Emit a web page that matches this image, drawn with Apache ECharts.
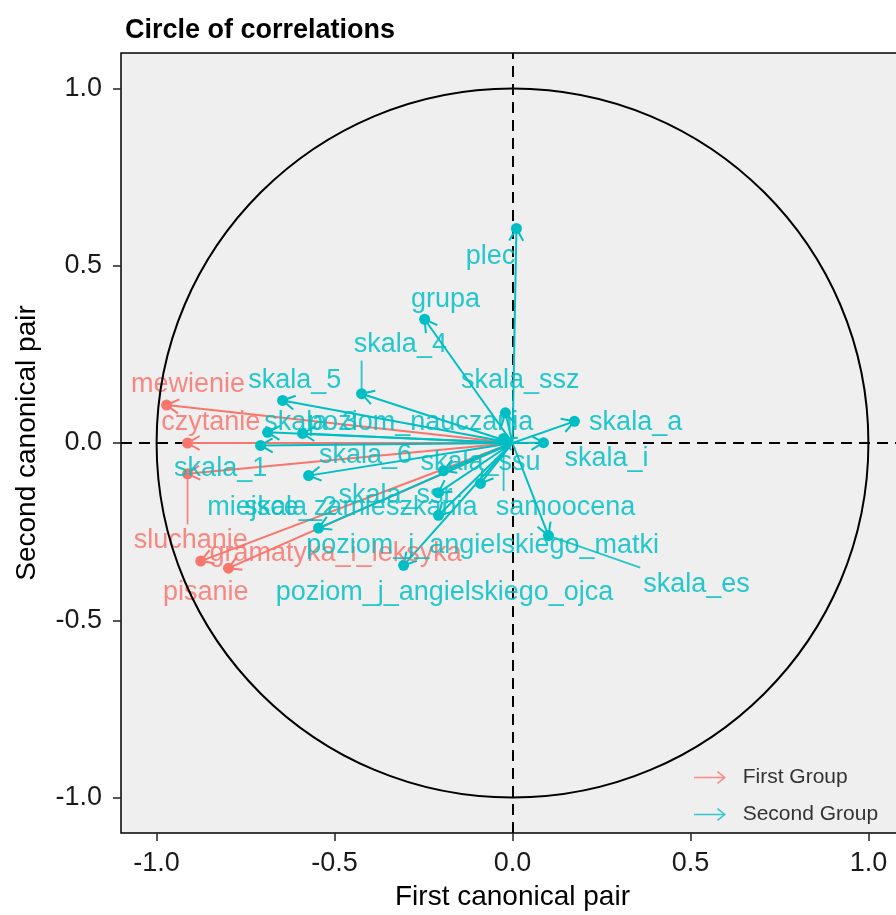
<!DOCTYPE html>
<html><head><meta charset="utf-8">
<script src="https://cdn.jsdelivr.net/npm/echarts@6/dist/echarts.min.js"></script>
<style>html,body{margin:0;padding:0;background:#fff}#c{width:896px;height:915px}</style>
</head><body><div id="c"></div>
<script>
const varNames = ['mewienie','czytanie','sluchanie','pisanie','gramatyka_i_leksyka','plec','grupa','skala_4','skala_5','skala_3','poziom_nauczania','skala_1','skala_6','skala_2','poziom_j_angielskiego_ojca','skala_ssr','skala_ssu','miejsce_zamieszkania','poziom_j_angielskiego_matki','skala_es','skala_a','skala_i','skala_ssz','samoocena'];
const varGroup = ['First Group','First Group','First Group','First Group','First Group','Second Group','Second Group','Second Group','Second Group','Second Group','Second Group','Second Group','Second Group','Second Group','Second Group','Second Group','Second Group','Second Group','Second Group','Second Group','Second Group','Second Group','Second Group','Second Group'];
const corrX = [-0.972,-0.913,-0.913,-0.876,-0.798, 0.011,-0.247,-0.424,-0.646,-0.688,-0.590,-0.708,-0.573,-0.545,-0.306,-0.194,-0.090,-0.208,-0.208,0.101,0.174,0.087,-0.020,-0.025];
const corrY = [0.107,0.000,-0.087,-0.333,-0.353, 0.605,0.349,0.139,0.120,0.030,0.027,-0.007,-0.092,-0.240,-0.345,-0.078,-0.114,-0.140,-0.204,-0.261,0.061,0.001,0.085,0.013];
const labelX = [-0.912,-0.848,-0.904,-0.862,-0.497, -0.062,-0.188,-0.315,-0.612,-0.567,-0.258,-0.820,-0.413,-0.624,-0.191,-0.329,-0.090,-0.478,-0.084,0.517,0.346,0.264,0.022,0.149];
const labelY = [0.166,0.059,-0.276,-0.423,-0.313, 0.527,0.406,0.279,0.175,0.059,0.059,-0.073,-0.035,-0.183,-0.423,-0.148,-0.055,-0.182,-0.289,-0.398,0.059,-0.045,0.175,-0.182];
const xTicks = [-1.0,-0.5,0.0,0.5,1.0];
const yTicks = [-1.0,-0.5,0.0,0.5,1.0];
const groups = ['First Group','Second Group'];
const groupColors = {'First Group':'#F8766D','Second Group':'#00BFC4'};

const FONT = '"Liberation Sans", Arial, Helvetica, sans-serif';
const LABEL_FONT = '27px ' + FONT;
const ctx = document.createElement('canvas').getContext('2d');
ctx.font = LABEL_FONT;

function idxOf(g){ return varNames.map((n,i)=>i).filter(i=>varGroup[i]===g); }

const series = [];
// reference circle + dashed axes
series.push({
  type:'custom', name:'circle', silent:true, z:20, animation:false,
  data:[[0,0]],
  renderItem:(params, api)=>{
    const c = api.coord([api.value(0), api.value(1)]);
    const s = api.size([1,1]);
    return {type:'ellipse', shape:{cx:c[0], cy:c[1], rx:s[0], ry:s[1]},
      style:{fill:null, stroke:'#000', lineWidth:2}};
  },
  markLine:{silent:true, symbol:['none','none'], animation:false, label:{show:false},
    lineStyle:{color:'#000', width:2, type:[11,7]},
    data:[{xAxis:0},{yAxis:0}]}
});

groups.forEach(g=>{
  const color = groupColors[g];
  const ids = idxOf(g);
  series.push({
    type:'custom', name:g, z:5, animation:false,
    itemStyle:{color},
    data: ids.map(i=>[corrX[i], corrY[i]]),
    renderItem:(params, api)=>{
      const o = api.coord([0,0]);
      const p = api.coord([api.value(0), api.value(1)]);
      const ang = Math.atan2(p[1]-o[1], p[0]-o[0]);
      const L = 14, a = Math.PI/6;
      const h1 = [p[0]-L*Math.cos(ang-a), p[1]-L*Math.sin(ang-a)];
      const h2 = [p[0]-L*Math.cos(ang+a), p[1]-L*Math.sin(ang+a)];
      return {type:'group', children:[
        {type:'line', shape:{x1:o[0],y1:o[1],x2:p[0],y2:p[1]}, style:{stroke:color, lineWidth:2}},
        {type:'polyline', shape:{points:[h1,p,h2]}, style:{stroke:color, lineWidth:2, fill:null}}
      ]};
    }
  });
  series.push({
    type:'scatter', name:g+' points', z:6, animation:false,
    symbolSize:11, itemStyle:{color, opacity:1},
    data: ids.map(i=>[corrX[i], corrY[i]])
  });
});

groups.forEach(g=>{
  const color = groupColors[g];
  const ids = idxOf(g);
  series.push({
    type:'custom', name:g+' labels', z:10, animation:false, silent:true,
    data: ids.map(i=>[labelX[i], labelY[i], corrX[i], corrY[i], i]),
    renderItem:(params, api)=>{
      const i = api.value(4);
      const text = varNames[i];
      const lp = api.coord([api.value(0), api.value(1)]);
      const pp = api.coord([api.value(2), api.value(3)]);
      const w = ctx.measureText(text).width, h = 27;
      const pad = 3;
      const bx0 = lp[0]-w/2-pad, bx1 = lp[0]+w/2+pad, by0 = lp[1]-h/2-pad, by1 = lp[1]+h/2+pad;
      const nx = Math.max(bx0, Math.min(pp[0], bx1));
      const ny = Math.max(by0, Math.min(pp[1], by1));
      const d = Math.hypot(nx-pp[0], ny-pp[1]);
      const children = [];
      if (d > 20) {
        children.push({type:'line', shape:{x1:pp[0],y1:pp[1],x2:nx,y2:ny},
          style:{stroke:color, lineWidth:1.8, opacity:0.85}});
      }
      children.push({type:'text', x:lp[0], y:lp[1], style:{text, fill:color, opacity:0.85,
        font:LABEL_FONT, align:'center', verticalAlign:'middle', textAlign:'center', textVerticalAlign:'middle'}});
      return {type:'group', children};
    }
  });
});

const chart = echarts.init(document.getElementById('c'), null, {renderer:'canvas'});
chart.setOption({
  animation:false,
  backgroundColor:'#fff',
  title:{text:'Circle of correlations', left:120, top:12,
    textStyle:{fontSize:27, fontWeight:'bold', color:'#000', fontFamily:FONT}},
  grid:{left:121, top:53, width:783, height:780, show:true, outerBoundsMode:'none',
    backgroundColor:'#EFEFEF', borderColor:'#000', borderWidth:1.5, containLabel:false},
  legend:{data:groups, orient:'vertical', left:689, top:762, itemWidth:32, itemHeight:13, itemGap:16,
    icon:'path://M0,5.2 L27,5.2 L21.5,1 L22.5,0 L30,6 L22.5,12 L21.5,11 L27,6.8 L0,6.8 Z',
    itemStyle:{opacity:0.8},
    formatter: n => '  ' + n,
    textStyle:{fontSize:21, color:'#333', fontFamily:FONT}},
  xAxis:{type:'value', min:-1.1, max:1.1,
    name:'First canonical pair', nameLocation:'middle', nameGap:50,
    nameTextStyle:{fontSize:28, color:'#000', fontFamily:FONT},
    axisLine:{show:false, onZero:false}, splitLine:{show:false},
    axisTick:{show:true, length:8, customValues:xTicks, lineStyle:{color:'#222', width:1.5}},
    axisLabel:{customValues:xTicks, margin:17, fontSize:27, color:'#1a1a1a', fontFamily:FONT,
      formatter: v => v.toFixed(1)}},
  yAxis:{type:'value', min:-1.1, max:1.1,
    name:'Second canonical pair', nameLocation:'middle', nameGap:80, nameRotate:90,
    nameTextStyle:{fontSize:28, color:'#000', fontFamily:FONT},
    axisLine:{show:false, onZero:false}, splitLine:{show:false},
    axisTick:{show:true, length:8, customValues:yTicks, lineStyle:{color:'#222', width:1.5}},
    axisLabel:{customValues:yTicks, margin:19, fontSize:27, color:'#1a1a1a', fontFamily:FONT,
      formatter: v => v.toFixed(1)}},
  series
});
</script>
</body></html>
